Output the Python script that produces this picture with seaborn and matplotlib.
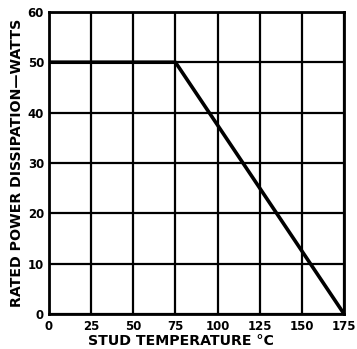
import matplotlib
matplotlib.use("Agg")
import matplotlib.pyplot as plt
import seaborn as sns
import pandas as pd

# Derating curve points
temps = [0, 75, 175]
watts = [50, 50, 0]
x_ticks = [0, 25, 50, 75, 100, 125, 150, 175]
y_ticks = [0, 10, 20, 30, 40, 50, 60]

df = pd.DataFrame({"temp": temps, "watts": watts})

sns.set_style("white")
plt.rcParams["font.family"] = ["DejaVu Sans"]
plt.rcParams["text.color"] = "black"
plt.rcParams["axes.labelcolor"] = "black"
plt.rcParams["xtick.color"] = "black"
plt.rcParams["ytick.color"] = "black"

fig = plt.figure(figsize=(3.57, 3.49), dpi=100)
ax = fig.add_axes([0.137, 0.100, 0.827, 0.866])

sns.lineplot(data=df, x="temp", y="watts", ax=ax, color="black", linewidth=2.6)

ax.set_xlim(0, 175)
ax.set_ylim(0, 60)
ax.set_xticks(x_ticks)
ax.set_yticks(y_ticks)
ax.grid(True, color="black", linewidth=1.6)
ax.set_axisbelow(True)
for s in ax.spines.values():
    s.set_color("black")
    s.set_linewidth(2)
ax.tick_params(axis="x", length=0, pad=4, labelsize=8.5, labelcolor="black")
ax.tick_params(axis="y", length=0, pad=3.5, labelsize=8.5, labelcolor="black")
for lbl in ax.get_xticklabels() + ax.get_yticklabels():
    lbl.set_fontweight("bold")

ax.set_xlabel("STUD TEMPERATURE °C", fontsize=10.2, fontweight="bold",
              labelpad=1, color="black", x=0.447)
ax.set_ylabel("RATED POWER DISSIPATION—WATTS", fontsize=10.2, fontweight="bold",
              labelpad=3, color="black")

fig.savefig("out.png", dpi=100)
